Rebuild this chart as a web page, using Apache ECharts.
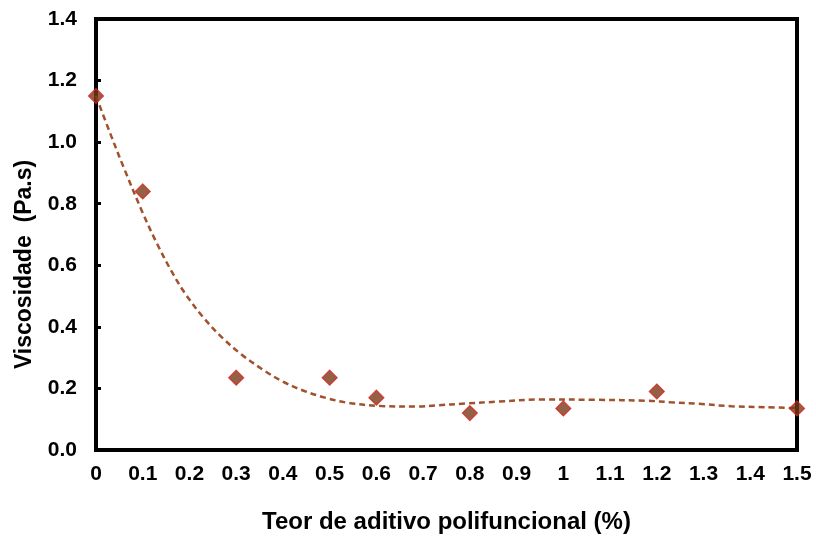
<!DOCTYPE html>
<html>
<head>
<meta charset="utf-8">
<script src="https://cdn.jsdelivr.net/npm/echarts@6/dist/echarts.min.js"></script>
<style>
  html, body { margin: 0; padding: 0; background: #fff; }
  #chart { width: 816px; height: 540px; }
</style>
</head>
<body>
<div id="chart"></div>
<script>
// Measured viscosity versus additive content
const teor = [0, 0.1, 0.3, 0.5, 0.6, 0.8, 1.0, 1.2, 1.5];
const viscosidade = [1.15, 0.84, 0.235, 0.235, 0.17, 0.12, 0.135, 0.19, 0.135];

// Fitted trend curve, sampled along its path
const trendX = [0, 0.03, 0.06, 0.1, 0.13, 0.16, 0.19, 0.23, 0.27, 0.31, 0.36, 0.40, 0.44, 0.49, 0.54, 0.61, 0.69, 0.73, 0.79, 0.86, 0.95, 1.07, 1.18, 1.23, 1.29, 1.36, 1.43, 1.5];
const trendY = [1.15, 1.03, 0.915, 0.77, 0.672, 0.585, 0.51, 0.43, 0.365, 0.312, 0.258, 0.222, 0.195, 0.17, 0.153, 0.143, 0.141, 0.145, 0.151, 0.157, 0.164, 0.163, 0.160, 0.155, 0.150, 0.142, 0.139, 0.136];

const xTitle = 'Teor de aditivo polifuncional (%)';
const yTitle = 'Viscosidade  (Pa.s)';

const font = 'Liberation Sans, Arial, sans-serif';

const chart = echarts.init(document.getElementById('chart'), null, { renderer: 'canvas' });
chart.setOption({
  animation: false,
  backgroundColor: '#ffffff',
  grid: {
    left: 96, right: 19, top: 19, bottom: 90,
    show: true, borderColor: '#000', borderWidth: 4, backgroundColor: 'transparent'
  },
  xAxis: {
    type: 'value', min: 0, max: 1.5, interval: 0.1,
    name: xTitle, nameLocation: 'middle', nameGap: 60,
    nameTextStyle: { fontFamily: font, fontWeight: 'bold', fontSize: 24, color: '#000' },
    axisLine: { show: true, lineStyle: { color: '#000', width: 4 } },
    axisTick: { show: false },
    splitLine: { show: false },
    axisLabel: { margin: 14, fontFamily: font, fontWeight: 'bold', fontSize: 21, color: '#000' }
  },
  yAxis: {
    type: 'value', min: 0, max: 1.4, interval: 0.2,
    name: yTitle, nameLocation: 'middle', nameGap: 60, nameRotate: 90,
    nameTextStyle: {
      fontFamily: font, fontWeight: 'bold', fontSize: 23, color: '#000',
      padding: [0, 60, 0, 0]
    },
    axisLine: { show: true, lineStyle: { color: '#000', width: 4 } },
    axisTick: { show: true, inside: true, length: 5, lineStyle: { color: '#000', width: 3 } },
    splitLine: { show: false },
    axisLabel: {
      margin: 19, fontFamily: font, fontWeight: 'bold', fontSize: 21, color: '#000',
      formatter: v => v.toFixed(1)
    }
  },
  series: [
    {
      type: 'line',
      data: trendX.map((x, i) => [x, trendY[i]]),
      smooth: 0.35,
      showSymbol: false,
      lineStyle: { color: '#a0522d', width: 2.5, type: [6, 4] },
      z: 2
    },
    {
      type: 'scatter',
      data: teor.map((x, i) => [x, viscosidade[i]]),
      symbol: 'diamond',
      symbolSize: 15,
      itemStyle: { color: '#7a3a18', borderColor: '#d9231f', borderWidth: 1.2 },
      z: 5
    }
  ]
});
</script>
</body>
</html>
